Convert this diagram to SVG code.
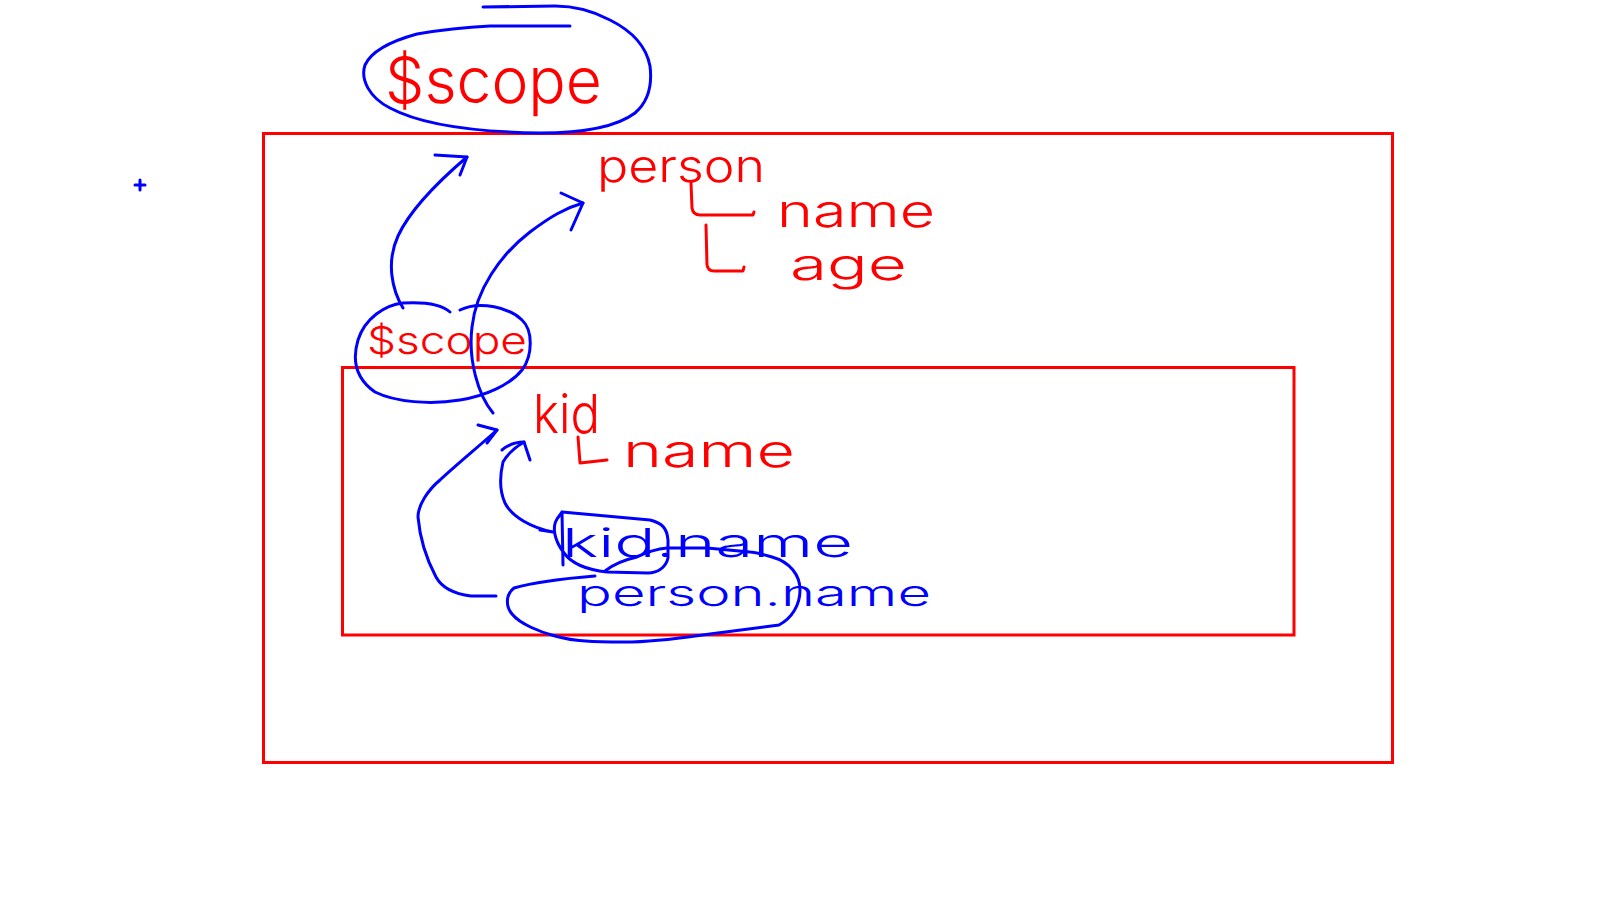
<svg xmlns="http://www.w3.org/2000/svg" width="1600" height="900" viewBox="0 0 1600 900">
<style>
  .frame { fill: none; stroke: #ff0000; stroke-width: 3; }
  .ink { fill: none; stroke: #0000ff; stroke-width: 3; stroke-linecap: round; stroke-linejoin: round; }
  .rink { fill: none; stroke: #ff0000; stroke-width: 3; stroke-linecap: round; stroke-linejoin: round; }
  .rt { fill: #ff0000; font-family: Inter, "Liberation Sans", "DejaVu Sans", sans-serif; font-weight: 300; }
  .bt { fill: #0000ff; font-family: Inter, "Liberation Sans", "DejaVu Sans", sans-serif; font-weight: 300; }
</style>
<rect width="1600" height="900" fill="#ffffff"/>

<g id="outer-scope">
  <rect class="frame" x="263.5" y="133.5" width="1129" height="629"/>
</g>
<g id="inner-scope">
  <rect class="frame" x="342.5" y="367.5" width="951.5" height="267.5"/>
</g>

<g id="cursor-mark">
  <path class="ink" stroke-width="2" stroke-linecap="butt" d="M135,185 L145,185 M140,180 L140,190"/>
</g>

<g id="root-scope">
  <path class="ink" d="M570,26 L490,26 C470,27 440,30 417,34 C395,40 372,50 365,65 C360,80 370,98 390,108 C420,124 470,132 540,133 C580,133 615,128 635,113 C650,100 652,82 650,66 C646,45 630,30 610,20 C595,12 575,6 555,6 L483,7"/>
  <text class="rt" x="385" y="103" font-size="64" textLength="217" lengthAdjust="spacingAndGlyphs">$scope</text>
</g>

<g id="person">
  <text class="rt" x="597" y="182" font-size="46" textLength="168" lengthAdjust="spacingAndGlyphs">person</text>
  <path class="rink" d="M691,183 L692,208 Q693,215 700,215 L753,215 L754,212"/>
  <path class="rink" d="M706,225 L707,265 Q708,271 714,271 L743,271 L744,267"/>
  <text class="rt" x="777" y="227" font-size="46" textLength="158" lengthAdjust="spacingAndGlyphs">name</text>
  <text class="rt" x="790" y="280" font-size="44" textLength="117" lengthAdjust="spacingAndGlyphs">age</text>
</g>

<g id="child-scope">
  <path class="ink" d="M450,312 C440,303 420,302 403,303 C385,305 365,318 358,340 C352,360 355,378 375,392 C395,402 430,405 460,400 C485,396 510,385 522,370 C533,355 533,330 522,320 C510,308 480,300 460,310"/>
  <text class="rt" x="367" y="354" font-size="38" textLength="160" lengthAdjust="spacingAndGlyphs">$scope</text>
</g>

<g id="kid">
  <text class="rt" x="533" y="433" font-size="54" textLength="67" lengthAdjust="spacingAndGlyphs">kid</text>
  <path class="rink" d="M578,437 L580,463 L607,460"/>
  <text class="rt" x="623" y="467" font-size="46" textLength="172" lengthAdjust="spacingAndGlyphs">name</text>
</g>

<g id="kid-name">
  <path class="ink" d="M562,512 L650,520 C662,523 667,528 668,540 L668,558 C666,567 658,573 648,573 L607,572 C588,570 572,564 564,553 C554,540 552,527 557,519 C559,516 561,514 562,512 L563,565"/>
  <text class="bt" x="562" y="557" font-size="40" textLength="291" lengthAdjust="spacingAndGlyphs">kid.name</text>
</g>

<g id="person-name">
  <path class="ink" d="M595,576 C570,578 535,582 514,588 C505,595 506,607 512,614 C520,624 540,632 555,636 C575,642 600,642 632,642 C660,641 690,637 710,634 L779,625 C792,618 800,605 800,590 C800,575 790,562 772,557 C762,554 755,552 750,552 L707,548 L667,548 C655,549 645,553 637,557 C628,559 615,563 605,571"/>
  <text class="bt" x="577" y="606" font-size="36" textLength="354" lengthAdjust="spacingAndGlyphs">person.name</text>
</g>

<g id="connectors">
  <path class="ink" d="M403,308 C392,290 386,262 398,236 C410,210 440,180 467,157"/>
  <path class="ink" d="M435,155 L467,157 L460,175"/>
  <path class="ink" d="M493,413 C478,395 468,360 472,327 C476,290 500,255 530,232 C550,217 565,208 583,203"/>
  <path class="ink" d="M561,193 L583,203 L571,230"/>
  <path class="ink" d="M496,596 L471,596 C455,594 442,588 436,577 C428,562 420,540 418,517 C418,505 428,490 440,480 C455,466 478,447 497,430"/>
  <path class="ink" d="M478,425 L497,430 L487,443"/>
  <path class="ink" d="M553,532 L540,530 M553,532 C532,528 512,517 505,503 C499,490 500,475 503,462 C507,455 514,448 524,442"/>
  <path class="ink" d="M502,450 C508,445 516,442 524,442 L530,460"/>
</g>
</svg>
